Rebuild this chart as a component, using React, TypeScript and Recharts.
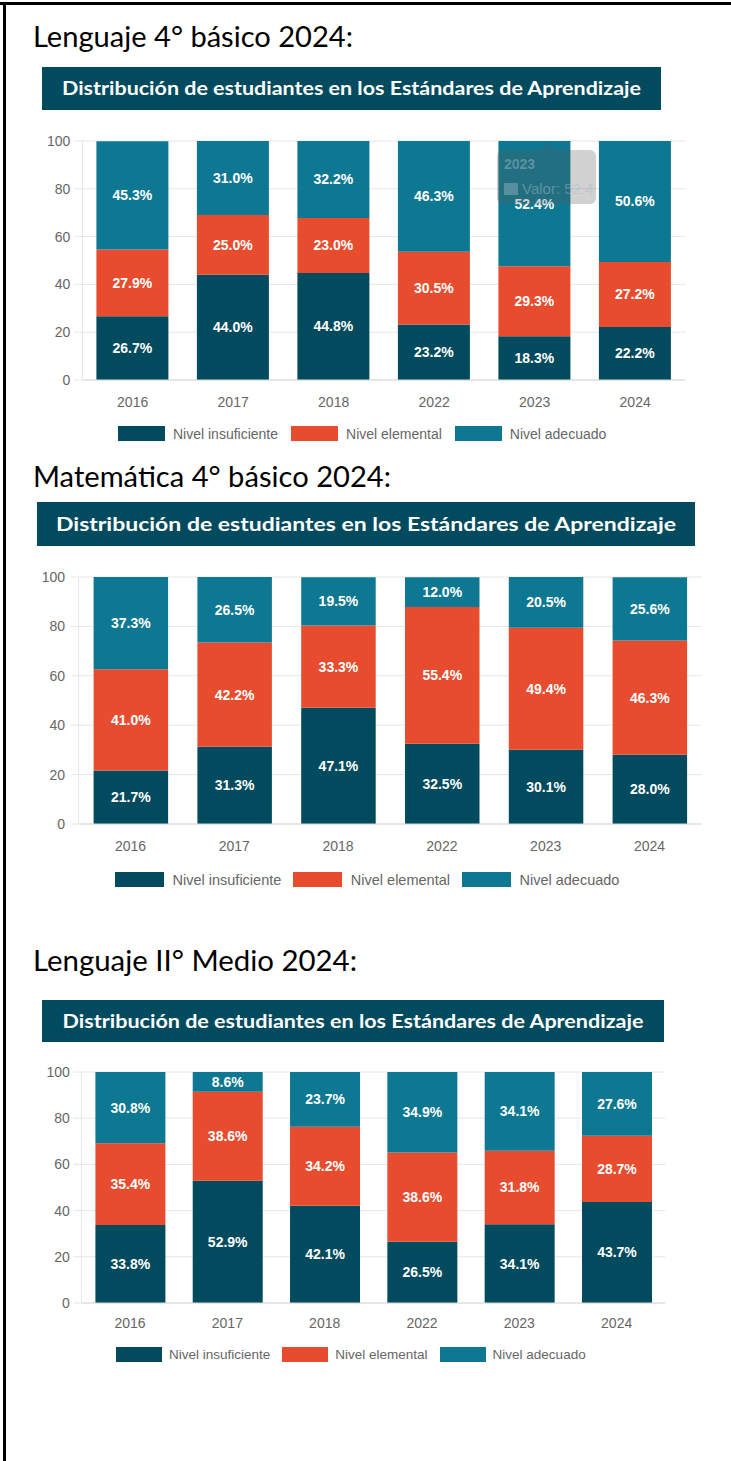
import React from 'react'
import { BarChart, Bar, XAxis, YAxis, CartesianGrid, LabelList } from 'recharts'

const YEARS = ['2016', '2017', '2018', '2022', '2023', '2024']
const LEVELS = ['Nivel insuficiente', 'Nivel elemental', 'Nivel adecuado']
const LEVEL_KEYS = ['insuf', 'elem', 'adec']
const LEVEL_COLORS = ['#024a5e', '#e84c2e', '#0e7892']
const Y_TICKS = [0, 20, 40, 60, 80, 100]
const BANNER_TEXT = 'Distribución de estudiantes en los Estándares de Aprendizaje'

// Lenguaje 4° básico
const LEN4_INSUF = [26.7, 44.0, 44.8, 23.2, 18.3, 22.2]
const LEN4_ELEM = [27.9, 25.0, 23.0, 30.5, 29.3, 27.2]
const LEN4_ADEC = [45.3, 31.0, 32.2, 46.3, 52.4, 50.6]

// Matemática 4° básico
const MAT4_INSUF = [21.7, 31.3, 47.1, 32.5, 30.1, 28.0]
const MAT4_ELEM = [41.0, 42.2, 33.3, 55.4, 49.4, 46.3]
const MAT4_ADEC = [37.3, 26.5, 19.5, 12.0, 20.5, 25.6]

// Lenguaje II° medio
const LEN2M_INSUF = [33.8, 52.9, 42.1, 26.5, 34.1, 43.7]
const LEN2M_ELEM = [35.4, 38.6, 34.2, 38.6, 31.8, 28.7]
const LEN2M_ADEC = [30.8, 8.6, 23.7, 34.9, 34.1, 27.6]

const toRows = (insuf: number[], elem: number[], adec: number[]) =>
  YEARS.map((year, i) => ({ year, insuf: insuf[i], elem: elem[i], adec: adec[i] }))

const CHART_FONT = '"Liberation Sans", Arial, sans-serif'
const HEAD_FONT = 'Lato, "Open Sans", sans-serif'

interface Block {
  heading: string
  headingBase: number
  headingW: number
  banner: { x: number; y: number; w: number; h: number; textW: number }
  plot: { left: number; right: number; top: number; bottom: number }
  barSize: number
  yTickMargin: number
  xTickMargin: number
  legend: { left: number; top: number; sw: number; sh: number; fs: number; gapText: number; gapItem: number }
  rows: ReturnType<typeof toRows>
}

const BLOCKS: Block[] = [
  {
    heading: 'Lenguaje 4° básico 2024:',
    headingBase: 47,
    headingW: 320,
    banner: { x: 42, y: 67, w: 619, h: 43, textW: 579 },
    plot: { left: 82.4, right: 685.4, top: 141, bottom: 379.5 },
    barSize: 72,
    yTickMargin: 4,
    xTickMargin: 17,
    legend: { left: 118, top: 426, sw: 47, sh: 15, fs: 14, gapText: 8, gapItem: 13 },
    rows: toRows(LEN4_INSUF, LEN4_ELEM, LEN4_ADEC),
  },
  {
    heading: 'Matemática 4° básico 2024:',
    headingBase: 487,
    headingW: 358,
    banner: { x: 37, y: 502, w: 658, h: 44, textW: 620 },
    plot: { left: 78.6, right: 701.4, top: 577.3, bottom: 824.3 },
    barSize: 74.5,
    yTickMargin: 5.5,
    xTickMargin: 17,
    legend: { left: 115, top: 872, sw: 49, sh: 15, fs: 14.5, gapText: 8.5, gapItem: 12 },
    rows: toRows(MAT4_INSUF, MAT4_ELEM, MAT4_ADEC),
  },
  {
    heading: 'Lenguaje II° Medio 2024:',
    headingBase: 971,
    headingW: 324,
    banner: { x: 42, y: 1000, w: 622, h: 42, textW: 581 },
    plot: { left: 81.4, right: 665.3, top: 1071.7, bottom: 1302.7 },
    barSize: 70,
    yTickMargin: 3.5,
    xTickMargin: 15.5,
    legend: { left: 116, top: 1347, sw: 46, sh: 14.5, fs: 13.5, gapText: 7, gapItem: 12 },
    rows: toRows(LEN2M_INSUF, LEN2M_ELEM, LEN2M_ADEC),
  },
]

const pct = (v: any) => `${Number(v).toFixed(1)}%`

function StackChart({ b }: { b: Block }) {
  const { plot } = b
  const top = plot.top - 10
  const width = Math.ceil(plot.right + 12)
  const height = Math.ceil(plot.bottom - plot.top + 10 + 40)
  return (
    <div style={{ position: 'absolute', left: 0, top, fontFamily: CHART_FONT }}>
      <BarChart
        width={width}
        height={height}
        data={b.rows}
        margin={{ top: 10, right: width - plot.right, left: 0, bottom: 0 }}
        style={{ fontFamily: CHART_FONT }}
      >
        <CartesianGrid vertical={false} stroke="#e6e6e6" />
        <XAxis
          dataKey="year"
          tickLine={false}
          tickSize={0}
          tickMargin={b.xTickMargin}
          height={40}
          axisLine={{ stroke: '#d9d9d9' }}
          tick={{ fill: '#666', fontSize: 14, fontFamily: CHART_FONT }}
        />
        <YAxis
          width={plot.left}
          domain={[0, 100]}
          allowDataOverflow
          ticks={Y_TICKS}
          tickSize={8}
          tickMargin={b.yTickMargin}
          tickLine={{ stroke: '#e6e6e6' }}
          axisLine={{ stroke: '#e6e6e6' }}
          tick={{ fill: '#666', fontSize: 14, fontFamily: CHART_FONT }}
        />
        {LEVEL_KEYS.map((k, i) => (
          <Bar
            key={k}
            dataKey={k}
            name={LEVELS[i]}
            stackId="a"
            fill={LEVEL_COLORS[i]}
            barSize={b.barSize}
            isAnimationActive={false}
          >
            <LabelList
              dataKey={k}
              position="center"
              formatter={pct}
              fill="#ffffff"
              fontSize={14}
              fontWeight="bold"
              fontFamily={CHART_FONT}
            />
          </Bar>
        ))}
      </BarChart>
    </div>
  )
}

function Legendish({ b }: { b: Block }) {
  const l = b.legend
  return (
    <div
      style={{
        position: 'absolute',
        left: l.left,
        top: l.top,
        height: l.sh,
        display: 'flex',
        alignItems: 'center',
        fontFamily: CHART_FONT,
        fontSize: l.fs,
        color: '#666',
        whiteSpace: 'nowrap',
      }}
    >
      {LEVELS.map((name, i) => (
        <div key={name} style={{ display: 'flex', alignItems: 'center', marginRight: l.gapItem }}>
          <div style={{ width: l.sw, height: l.sh, background: LEVEL_COLORS[i], marginRight: l.gapText }} />
          <span>{name}</span>
        </div>
      ))}
    </div>
  )
}

// the hover tooltip caught in the first screenshot
function GhostTooltip() {
  return (
    <>
      <div
        style={{
          position: 'absolute',
          left: 541,
          top: 143,
          width: 0,
          height: 0,
          borderLeft: '7px solid transparent',
          borderRight: '7px solid transparent',
          borderBottom: '7px solid rgba(90,90,90,0.28)',
        }}
      />
      <div
        style={{
          position: 'absolute',
          left: 497,
          top: 150,
          width: 99,
          height: 54,
          borderRadius: 6,
          background: 'rgba(90,90,90,0.28)',
          overflow: 'hidden',
          fontFamily: CHART_FONT,
          color: 'rgba(170,190,200,0.45)',
          fontSize: 14,
          whiteSpace: 'nowrap',
        }}
      >
        <div style={{ position: 'absolute', left: 7, top: 6, fontWeight: 'bold' }}>2023</div>
        <div style={{ position: 'absolute', left: 7, top: 33, width: 14, height: 12, background: 'rgba(170,190,200,0.4)' }} />
        <div style={{ position: 'absolute', left: 25, top: 30, fontSize: 15 }}>Valor: 52.4</div>
      </div>
    </>
  )
}

export default function App() {
  return (
    <div style={{ position: 'relative', width: 731, height: 1461, background: '#fff', overflow: 'hidden' }}>
      <style>{'body{margin:0}'}</style>
      <div style={{ position: 'absolute', left: 0, top: 2, width: 731, height: 3, background: '#000' }} />
      <div style={{ position: 'absolute', left: 3, top: 2, width: 3, height: 1459, background: '#000' }} />
      <svg width={731} height={1461} style={{ position: 'absolute', left: 0, top: 0 }}>
        {BLOCKS.map((b, i) => (
          <g key={i}>
            <text
              x={33}
              y={b.headingBase}
              fontFamily={HEAD_FONT}
              fontSize={28}
              fill="#000"
              textLength={b.headingW}
              lengthAdjust="spacingAndGlyphs"
            >
              {b.heading}
            </text>
            <rect x={b.banner.x} y={b.banner.y} width={b.banner.w} height={b.banner.h} fill="#024a5e" />
            <text
              x={b.banner.x + b.banner.w / 2}
              y={b.banner.y + b.banner.h / 2 + 6.5}
              textAnchor="middle"
              fontFamily={HEAD_FONT}
              fontWeight="bold"
              fontSize={18}
              fill="#fff"
              textLength={b.banner.textW}
              lengthAdjust="spacingAndGlyphs"
            >
              {BANNER_TEXT}
            </text>
          </g>
        ))}
      </svg>
      {BLOCKS.map((b, i) => (
        <React.Fragment key={i}>
          <StackChart b={b} />
          <Legendish b={b} />
        </React.Fragment>
      ))}
      <GhostTooltip />
    </div>
  )
}
